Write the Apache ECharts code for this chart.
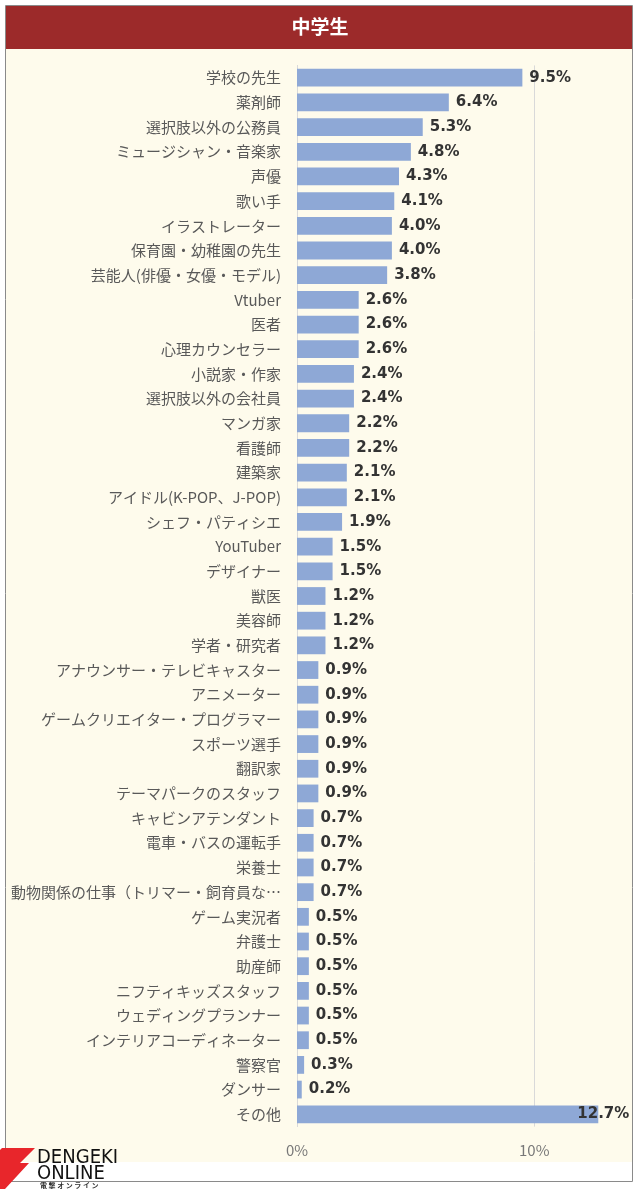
<!DOCTYPE html>
<html>
<head>
<meta charset="utf-8">
<script src="https://cdn.jsdelivr.net/npm/echarts@6/dist/echarts.min.js"></script>
<style>
html,body{margin:0;padding:0;background:#fff;}
#c{width:640px;height:1189px;}
</style>
</head>
<body>
<div id="c"></div>
<script>
var titleText = '中学生';
var categories = [
'学校の先生','薬剤師','選択肢以外の公務員','ミュージシャン・音楽家','声優','歌い手','イラストレーター','保育園・幼稚園の先生','芸能人(俳優・女優・モデル)','Vtuber','医者','心理カウンセラー','小説家・作家','選択肢以外の会社員','マンガ家','看護師','建築家','アイドル(K-POP、J-POP)','シェフ・パティシエ','YouTuber','デザイナー','獣医','美容師','学者・研究者','アナウンサー・テレビキャスター','アニメーター','ゲームクリエイター・プログラマー','スポーツ選手','翻訳家','テーマパークのスタッフ','キャビンアテンダント','電車・バスの運転手','栄養士','動物関係の仕事（トリマー・飼育員など）','ゲーム実況者','弁護士','助産師','ニフティキッズスタッフ','ウェディングプランナー','インテリアコーディネーター','警察官','ダンサー','その他'
];
var values = [9.5,6.4,5.3,4.8,4.3,4.1,4.0,4.0,3.8,2.6,2.6,2.6,2.4,2.4,2.2,2.2,2.1,2.1,1.9,1.5,1.5,1.2,1.2,1.2,0.9,0.9,0.9,0.9,0.9,0.9,0.7,0.7,0.7,0.7,0.5,0.5,0.5,0.5,0.5,0.5,0.3,0.2,12.7];
var tickValues = [0, 10];

var chart = echarts.init(document.getElementById('c'), null, {renderer:'canvas'});
var data = values.map(function(v, i){
  var d = {value: v};
  if (i === values.length - 1) {
    d.label = {offset: [-28, 0]};
  }
  return d;
});
chart.setOption({
  backgroundColor: '#ffffff',
  animation: false,
  graphic: [
    {type:'rect', shape:{x:5.5, y:5.5, width:627, height:1176}, style:{fill:'#ffffff', stroke:'#8a8a8a', lineWidth:1}, z:-10},
    {type:'rect', shape:{x:6, y:49, width:626, height:1113}, style:{fill:'#fefbec'}, z:-9},
    {type:'rect', shape:{x:6, y:6, width:626, height:43}, style:{fill:'#9c2a2a'}, z:-9},
    {type:'text', x:320, y:27, style:{text:titleText, fill:'#ffffff', font:'bold 19px "Noto Sans CJK JP"', align:'center', verticalAlign:'middle'}, z:5},
    {type:'polygon', shape:{points:[[2,1148],[35,1148],[20,1163],[29,1163],[5,1189],[0,1189],[0,1150]]}, style:{fill:'#e8262b'}, z:5},
    {type:'text', x:37, y:1158, style:{text:'DENGEKI', fill:'#111', font:'20px "DejaVu Sans Condensed", "Liberation Sans Narrow", sans-serif', verticalAlign:'middle'}, z:5},
    {type:'text', x:37, y:1174, style:{text:'ONLINE', fill:'#111', font:'20px "DejaVu Sans Condensed", "Liberation Sans Narrow", sans-serif', verticalAlign:'middle'}, z:5},
    {type:'text', x:40, y:1185, style:{text:'電 撃 オ ン ラ イ ン', fill:'#333', font:'bold 7px "Noto Sans CJK JP"', verticalAlign:'middle'}, z:5}
  ],
  grid: {left: 297, right: 34.6, top: 65.4, bottom: 62.4, containLabel: false},
  xAxis: {
    type: 'value', min: 0, max: 13, interval: 10,
    axisLine: {show: false}, axisTick: {show: false},
    splitLine: {show: true, showMinLine: false, showMaxLine: false, lineStyle: {color: '#d9d9d9', width: 1}},
    axisLabel: {
      customValues: tickValues,
      formatter: function(v){ return v + '%'; },
      color: '#777', fontSize: 15, margin: 16, fontFamily: '"Noto Sans CJK JP", sans-serif'
    }
  },
  yAxis: {
    type: 'category', data: categories, inverse: true,
    axisLine: {show: true, lineStyle: {color: '#d9d9d9'}},
    axisTick: {show: false},
    axisLabel: {
      color: '#595959', fontSize: 15, margin: 16, fontFamily: '"Noto Sans CJK JP", sans-serif',
      width: 274, overflow: 'truncate', ellipsis: '…'
    }
  },
  series: [{
    type: 'bar', data: data, barCategoryGap: '28%',
    itemStyle: {color: '#8ea8d6'},
    label: {
      show: true, position: 'right', distance: 7,
      formatter: function(p){ return p.value.toFixed(1) + '%'; },
      color: '#333', fontSize: 15, fontWeight: 'bold', fontFamily: 'Verdana, "DejaVu Sans", sans-serif'
    }
  }]
});
</script>
</body>
</html>
